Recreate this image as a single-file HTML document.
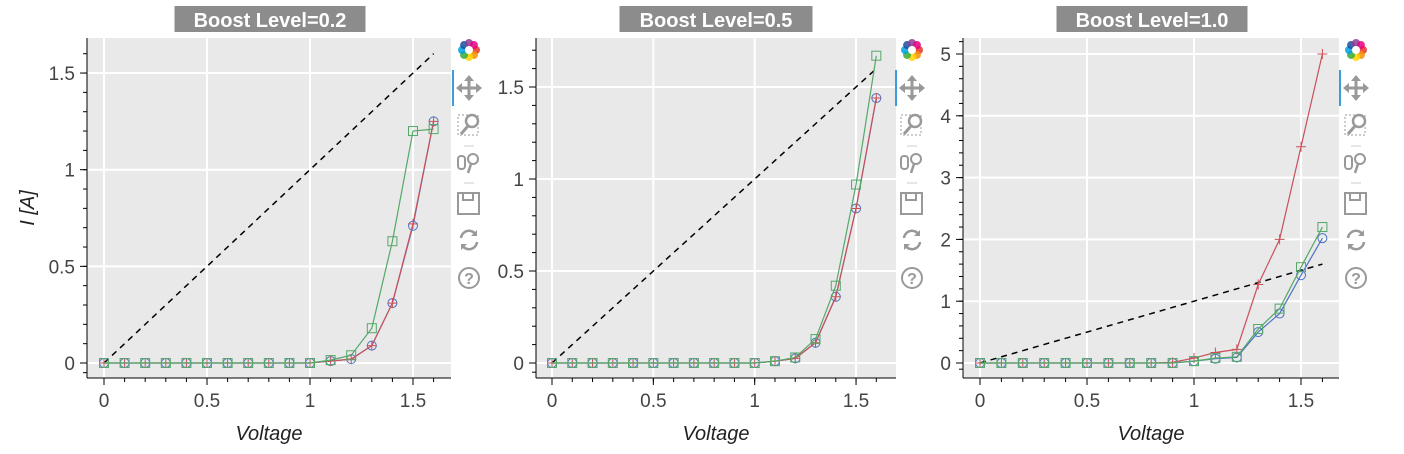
<!DOCTYPE html>
<html><head><meta charset="utf-8"><style>
body{margin:0;background:#fff;width:1404px;height:454px;overflow:hidden;font-family:"Liberation Sans",sans-serif}
svg{position:absolute;left:0;top:0}
</style></head><body>
<svg id="s" width="1404" height="454"></svg>
<script>
const xVals=[0,0.1,0.2,0.3,0.4,0.5,0.6,0.7,0.8,0.9,1.0,1.1,1.2,1.3,1.4,1.5,1.6];
const titles=["Boost Level=0.2","Boost Level=0.5","Boost Level=1.0"];
const blue1=[0,0,0,0,0,0,0,0,0,0,0,0.01,0.02,0.09,0.31,0.71,1.25];
const red1=[0,0,0,0,0,0,0,0,0,0,0,0.01,0.02,0.09,0.31,0.72,1.25];
const green1=[0,0,0,0,0,0,0,0,0,0,0,0.015,0.04,0.18,0.63,1.2,1.21];
const blue2=[0,0,0,0,0,0,0,0,0,0,0,0.01,0.025,0.11,0.36,0.84,1.44];
const red2=[0,0,0,0,0,0,0,0,0,0,0,0.01,0.025,0.11,0.36,0.84,1.44];
const green2=[0,0,0,0,0,0,0,0,0,0,0,0.01,0.03,0.13,0.42,0.97,1.67];
const blue3=[0,0,0,0,0,0,0,0,0,0,0.03,0.07,0.09,0.5,0.8,1.42,2.02];
const red3=[0,0,0,0,0,0,0,0,0,0.01,0.08,0.17,0.22,1.27,2.0,3.5,5.0];
const green3=[0,0,0,0,0,0,0,0,0,0,0.03,0.08,0.1,0.55,0.88,1.55,2.2];
const yMajor1=[0,0.5,1,1.5],yMajor2=[0,0.5,1,1.5],yMajor3=[0,1,2,3,4,5];
const xMajor=[0,0.5,1,1.5];
const xLabels=["0","0.5","1","1.5"];

const P=[
 {L:87,R:451,T:38,B:378,x0:104,xs:206,y0:363,ys:193.3,ymax:1.68,minor:0.1,yM:yMajor1,yl:["0","0.5","1","1.5"],b:blue1,r:red1,g:green1,tb:457,tc:270,tw:191},
 {L:536,R:896,T:38,B:378,x0:552,xs:202.7,y0:363,ys:184,ymax:1.75,minor:0.1,yM:yMajor2,yl:["0","0.5","1","1.5"],b:blue2,r:red2,g:green2,tb:900,tc:716,tw:193},
 {L:963,R:1339,T:38,B:378,x0:980,xs:214,y0:363,ys:61.8,ymax:5.25,minor:0.2,yM:yMajor3,yl:["0","1","2","3","4","5"],b:blue3,r:red3,g:green3,tb:1344,tc:1152,tw:191}
];
const s=document.getElementById('s');
const NS="http://www.w3.org/2000/svg";
function el(t,a,p){const e=document.createElementNS(NS,t);for(const k in a)e.setAttribute(k,a[k]);(p||s).appendChild(e);return e;}
P.forEach((p,i)=>{
 const X=v=>p.x0+v*p.xs, Y=v=>p.y0-v*p.ys;
 const g=el('g',{});
 
 
 const bg=el('rect',{x:p.L,y:p.T,width:p.R-p.L,height:p.B-p.T,fill:'#e9e9e9'},g);
 
 
 p.yM.forEach(v=>el('line',{x1:p.L,x2:p.R,y1:Y(v),y2:Y(v),stroke:'#fff','stroke-width':2},g));
 xMajor.forEach(v=>el('line',{x1:X(v),x2:X(v),y1:p.T,y2:p.B,stroke:'#fff','stroke-width':2},g));
 el('line',{x1:p.L,x2:p.L,y1:p.T,y2:p.B,stroke:'#000','stroke-width':1},g);
 el('line',{x1:p.L,x2:p.R,y1:p.B,y2:p.B,stroke:'#000','stroke-width':1},g);
 for(let v=0;v<=p.ymax+1e-9;v+=p.minor){el('line',{x1:p.L-4,x2:p.L,y1:Y(v),y2:Y(v),stroke:'#000'},g);}
 el('line',{x1:p.L-4,x2:p.L,y1:Y(-p.minor/2),y2:Y(-p.minor/2),stroke:'#000'},g);
 p.yM.forEach((v,j)=>{el('line',{x1:p.L-7,x2:p.L,y1:Y(v),y2:Y(v),stroke:'#000'},g);
  const t=el('text',{x:p.L-12,y:Y(v)+7,'text-anchor':'end','font-size':19,fill:'#444'},g);t.textContent=p.yl[j];
  });
 for(let k=0;k<=16;k++){el('line',{x1:X(k/10),x2:X(k/10),y1:p.B,y2:p.B+4,stroke:'#000'},g);}
 xMajor.forEach((v,j)=>{el('line',{x1:X(v),x2:X(v),y1:p.B,y2:p.B+7,stroke:'#000'},g);
  const t=el('text',{x:X(v),y:p.B+29,'text-anchor':'middle','font-size':19,fill:'#444'},g);t.textContent=xLabels[j];
  });
 const xt=el('text',{x:(p.L+p.R)/2,y:440,'text-anchor':'middle','font-size':20,'font-style':'italic',fill:'#222'},g);
 xt.textContent='Voltage';
 
 if(i==0){const yt=el('text',{x:0,y:0,transform:'translate(34,208) rotate(-90)','text-anchor':'middle','font-size':20,'font-style':'italic',fill:'#222'},g);
  yt.textContent='I [A]';}
 el('rect',{x:p.tc-p.tw/2,y:6,width:p.tw,height:26,fill:'#8c8c8c'},g);
 const tt=el('text',{x:p.tc,y:27,'text-anchor':'middle','font-size':20,'font-weight':'bold',fill:'#fff'},g);
 tt.textContent=titles[i];
 const dl=el('line',{x1:X(0),y1:Y(0),x2:X(1.6),y2:Y(1.6),stroke:'#000','stroke-width':1.5,'stroke-dasharray':'6,5'},g);
 
 const ser=[[p.b,'#4a72c4','circle'],[p.r,'#c9505a','plus'],[p.g,'#55a868','square']];
 ser.forEach(([d,c,m])=>{
  const pl=el('polyline',{points:d.map((v,k)=>X(xVals[k])+','+Y(v)).join(' '),fill:'none',stroke:c,'stroke-width':1.2},g);
  
  d.forEach((v,k)=>{const cx=X(xVals[k]),cy=Y(v);let mk;
   if(m=='circle')mk=el('circle',{cx,cy,r:4.5,fill:'none',stroke:c},g);
   else if(m=='plus')mk=el('path',{d:`M${cx-5},${cy}H${cx+5}M${cx},${cy-5}V${cy+5}`,stroke:c},g);
   else mk=el('rect',{x:cx-4.5,y:cy-4.5,width:9,height:9,fill:'none',stroke:c},g);
   });
 });
 const tb=el('g',{transform:`translate(${p.tb},38)`});
 
 const cols=['#e6332a','#f39200','#ffd500','#3aaa35','#00a0e3','#1d4f9c','#8e3a96','#e5007e'];
 const logo=el('g',{},tb);
 cols.forEach((c,k)=>{const a=k*Math.PI/4;el('circle',{cx:12+7*Math.cos(a),cy:12+7*Math.sin(a),r:4,fill:c,opacity:0.85},logo);});
 el('circle',{cx:12,cy:12,r:4,fill:'#fff'},logo);
 el('rect',{x:-5,y:32,width:2,height:36,fill:'#3b9ddd'},tb);
 const gr='#999';
 const icons=[
  ['pan-tool',`<path d="M12 40v20M2 50h20" stroke="${gr}" stroke-width="3"/><path d="M12 37l-5 6h10zM12 63l-5-6h10zM-1 50l6-5v10zM25 50l-6-5v10z" fill="${gr}"/>`],
  ['box-zoom-tool',`<rect x="1" y="77" width="20" height="20" fill="none" stroke="${gr}" stroke-dasharray="2,2"/><circle cx="15" cy="83" r="6" fill="none" stroke="${gr}" stroke-width="2.5"/><path d="M11 88l-7 8" stroke="${gr}" stroke-width="3"/>`],
  ['wheel-zoom-tool',`<rect x="1" y="118" width="7" height="13" rx="3" fill="none" stroke="${gr}" stroke-width="2"/><circle cx="16" cy="121" r="5" fill="none" stroke="${gr}" stroke-width="2"/><path d="M14 126l-3 9" stroke="${gr}" stroke-width="2.5"/>`],
  ['save-tool',`<rect x="1" y="155" width="21" height="21" fill="none" stroke="${gr}" stroke-width="2"/><rect x="6" y="155" width="10" height="7" fill="none" stroke="${gr}" stroke-width="2"/>`],
  ['reset-tool',`<path d="M4 200a8 8 0 0 1 15-3M20 204a8 8 0 0 1-15 3" fill="none" stroke="${gr}" stroke-width="2.5"/><path d="M20 192v6h-6zM4 212v-6h6z" fill="${gr}"/>`],
  ['help-tool',`<circle cx="12" cy="240" r="10" fill="none" stroke="${gr}" stroke-width="2"/><text x="12" y="246" text-anchor="middle" font-size="16" font-weight="bold" fill="${gr}">?</text>`]
 ];
 el('line',{x1:7,x2:17,y1:108,y2:108,stroke:'#ccc'},tb);
 el('line',{x1:7,x2:17,y1:145,y2:145,stroke:'#ccc'},tb);
 icons.forEach(([n,h])=>{const ig=el('g',{},tb);ig.innerHTML=h;
  });
});
</script>
</body></html>
